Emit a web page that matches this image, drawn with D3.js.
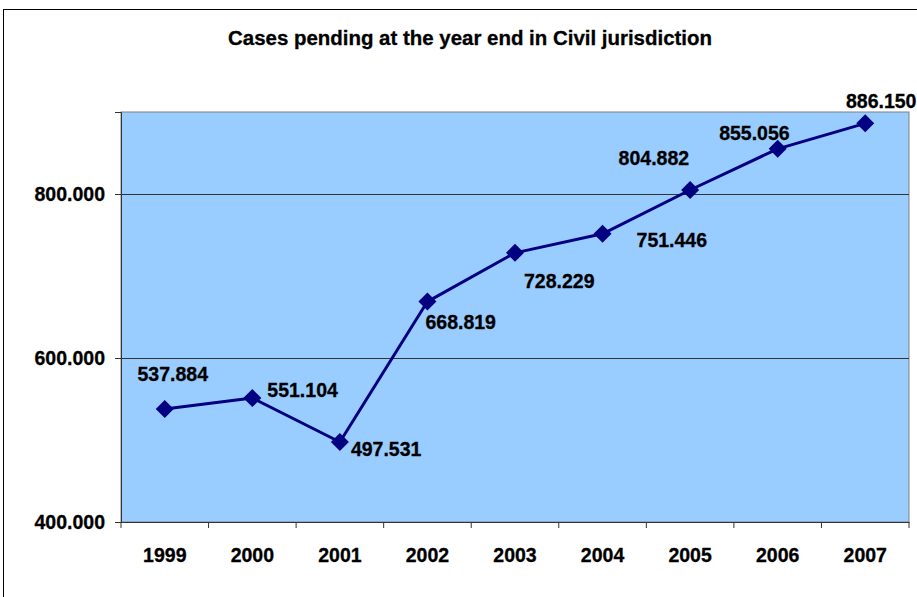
<!DOCTYPE html>
<html>
<head>
<meta charset="utf-8">
<script src="https://cdn.jsdelivr.net/npm/d3@7"></script>
<style>
  body { margin: 0; background: #fff; }
  svg { display: block; font-family: "Liberation Sans", Arial, sans-serif; }
  text { stroke: #000; stroke-width: 0.3px; }
</style>
</head>
<body>
<svg id="chart" width="917" height="597"></svg>
<script>
var years = ["1999", "2000", "2001", "2002", "2003", "2004", "2005", "2006", "2007"];
var pending = [537884, 551104, 497531, 668819, 728229, 751446, 804882, 855056, 886150];
var yTicks = [400000, 600000, 800000];
var title = "Cases pending at the year end in Civil jurisdiction";

// where each value label sits relative to its point
var labelPos = [[8, -35, "middle"], [15, -8, "start"], [11, 7, "start"], [-2, 21, "start"],
                [9, 28, "start"], [34, 6, "start"], [-1, -32, "end"], [12, -16, "end"], [16, -22, "middle"]];

var svg = d3.select("#chart"),
    margin = {left: 121, top: 112, right: 8, bottom: 75},
    width = 917 - margin.left - margin.right,
    height = 597 - margin.top - margin.bottom;

var fmt = function(v) { return d3.format(",.0f")(v).replace(/,/g, "."); };

// outer frame
svg.append("rect")
    .attr("x", 3.5).attr("y", 9.5)
    .attr("width", 930).attr("height", 600)
    .attr("fill", "none").attr("stroke", "#000").attr("stroke-width", 1);

svg.append("text")
    .attr("x", 470).attr("y", 45)
    .attr("text-anchor", "middle")
    .attr("font-size", 20).attr("font-weight", "bold")
    .attr("textLength", 484).attr("lengthAdjust", "spacingAndGlyphs")
    .text(title);

var x = d3.scaleBand().domain(years).range([0, width]);
var y = d3.scaleLinear().domain([400000, 900000]).range([height, 0]);

var g = svg.append("g").attr("transform", "translate(" + margin.left + "," + margin.top + ")");

g.append("rect")
    .attr("width", width).attr("height", height)
    .attr("fill", "#99ccff").attr("stroke", "#808080");

g.selectAll(".grid").data(yTicks.slice(1)).enter().append("line")
    .attr("x1", 0).attr("x2", width)
    .attr("y1", function(d) { return Math.round(y(d)) + 0.5; })
    .attr("y2", function(d) { return Math.round(y(d)) + 0.5; })
    .attr("stroke", "#333");

var yAxis = g.append("g")
    .call(d3.axisLeft(y).tickValues(yTicks).tickFormat(fmt).tickSize(6).tickPadding(10));
var xAxis = g.append("g").attr("transform", "translate(0," + height + ")")
    .call(d3.axisBottom(x).tickSize(0).tickPadding(26));

[yAxis, xAxis].forEach(function(a) {
  a.select(".domain").attr("stroke", "#333");
  a.selectAll("line").attr("stroke", "#333");
  a.selectAll("text").attr("font-size", 19.5).attr("font-weight", "bold")
      .attr("font-family", "Liberation Sans, Arial, sans-serif").attr("fill", "#000");
});

// category tick marks between bands
xAxis.selectAll(".sep").data(d3.range(years.length + 1)).enter().append("line")
    .attr("x1", function(i) { return i * x.step(); })
    .attr("x2", function(i) { return i * x.step(); })
    .attr("y1", 0).attr("y2", 6)
    .attr("stroke", "#333");

var cx = function(d, i) { return x(years[i]) + x.bandwidth() / 2; };

g.append("path")
    .datum(pending)
    .attr("fill", "none")
    .attr("stroke", "#000080")
    .attr("stroke-width", 3)
    .attr("stroke-linejoin", "round")
    .attr("d", d3.line().x(cx).y(function(d) { return y(d); }));

g.selectAll(".pt").data(pending).enter().append("path")
    .attr("d", "M0,-9L9,0L0,9L-9,0Z")
    .attr("fill", "#000080")
    .attr("transform", function(d, i) { return "translate(" + cx(d, i) + "," + y(d) + ")"; });

g.selectAll(".lbl").data(pending).enter().append("text")
    .attr("x", function(d, i) { return cx(d, i) + labelPos[i][0]; })
    .attr("y", function(d, i) { return y(d) + labelPos[i][1]; })
    .attr("dy", "0.35em")
    .attr("text-anchor", function(d, i) { return labelPos[i][2]; })
    .attr("font-size", 19.5).attr("font-weight", "bold")
    .text(fmt);
</script>
</body>
</html>
